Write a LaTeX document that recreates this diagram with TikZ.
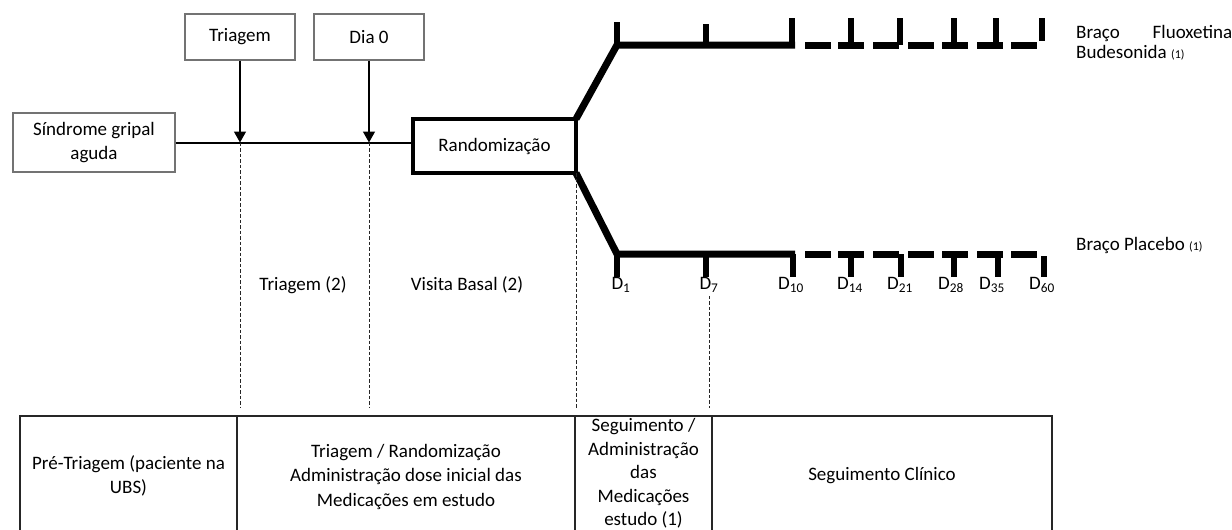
\documentclass[tikz,border=0pt]{standalone}
\usepackage{fontspec}
\setmainfont{Carlito}
\usetikzlibrary{arrows.meta}
\tikzset{
  box/.style={draw=black!55,line width=1.2pt,inner sep=0pt,align=center},
  randbox/.style={draw,line width=4.5pt,outer sep=0pt,inner sep=0pt},
  guide/.style={black!85,line width=0.8pt,dash pattern=on 3.5pt off 2pt},
  arm/.style={line width=7pt},
  tick/.style={line width=6pt},
  tab/.style={black!85,line width=1.2pt},
  cell/.style={align=center,font=\fontsize{19}{24.5}\selectfont}
}
\begin{document}
\begin{tikzpicture}[x=1pt,y=-1pt,font=\fontsize{19}{24}\selectfont]
  \useasboundingbox (0,0) rectangle (1232,530);
  \clip (0,0) rectangle (1232,530);
  \coordinate (tabtop) at (0,408);

  \node[box,minimum width=162pt,minimum height=59pt] (sindrome) at (94,142.5) {Síndrome gripal\\aguda};
  \node[box,minimum width=110pt,minimum height=46pt] (triagem) at (240,37) {Triagem};
  \node[box,minimum width=110pt,minimum height=46pt] (dia0) at (369,37) {Dia 0};
  \node[randbox,minimum width=163pt,minimum height=54pt] (rand) at (494.5,146) {Randomização};

  \draw[line width=2pt] (sindrome.east) -- (sindrome.east -| rand.west);
  \draw[line width=1.5pt,-{Triangle[width=12pt,length=11pt]}] (triagem.south) -- (triagem.south |- sindrome.east);
  \draw[line width=1.5pt,-{Triangle[width=12pt,length=11pt]}] (dia0.south) -- (dia0.south |- sindrome.east);

  \coordinate (up) at (617,45);
  \coordinate (lo) at (617,254);
  \draw[arm,line join=miter] (rand.north east) -- (up) -- (795,45);
  \draw[arm,line join=miter] (rand.south east) -- (lo) -- (795,254);
  \foreach \s in {805,838,873,908,942,977,1011} {
    \draw[arm] (\s,45) -- ++(26,0);
    \draw[arm] (\s,254) -- ++(26,0);
  }
  \foreach \x/\a/\b in {617/45/22,706/45/24,792/45/18,851/45/18,900/45/18,954/45/18,996/45/18,1042/41/18}
    \draw[tick] (\x,\a) -- (\x,\b);
  \foreach \x/\a/\b in {617/254/277,706/254/277,793/254/277,851/254/277,901/254/277,954/254/277,998/254/277,1044/256/277}
    \draw[tick] (\x,\a) -- (\x,\b);

  \foreach \x/\n in {621/1,709/7,791/10,850/14,900/21,951/28,992/35,1042/60}
    \node (d\n) at (\x,285) {D\textsubscript{\n}};

  \node (tri2) at (303,285) {Triagem (2)};
  \node (vbas) at (467,285) {Visita Basal (2)};

  \node[anchor=west,inner sep=0pt,align=left,font=\fontsize{19}{20}\selectfont] (fluox) at (1076,43)
    {\makebox[156pt][s]{Braço Fluoxetina}\\Budesonida {\fontsize{12}{12}\selectfont(1)}};
  \node[anchor=west,inner sep=0pt] (plac) at (1076,245) {Braço Placebo {\fontsize{12}{12}\selectfont(1)}};

  \draw[guide] (triagem.south |- sindrome.east) -- (triagem.south |- tabtop);
  \draw[guide] (dia0.south |- sindrome.east) -- (dia0.south |- tabtop);
  \draw[guide] (rand.south east) -- (rand.south east |- tabtop);
  \draw[guide] (d7.south) -- (d7.south |- tabtop);

  \draw[tab] (20,560) -- (20,416) -- (1052,416) -- (1052,560);
  \foreach \x in {237,575,712}
    \draw[tab] (\x,416) -- (\x,560);

  \node[cell] (pretri) at (128.5,476) {Pré-Triagem (paciente na\\UBS)};
  \node[cell] (trirand) at (406,476.5) {Triagem / Randomização\\Administração dose inicial das\\Medicações em estudo};
  \node[cell,font=\fontsize{19}{23.5}\selectfont] (segadm) at (643.5,473.5) {Seguimento /\\Administração\\das\\Medicações\\estudo (1)};
  \node[cell] (segcli) at (882,476) {Seguimento Clínico};
\end{tikzpicture}
\end{document}
